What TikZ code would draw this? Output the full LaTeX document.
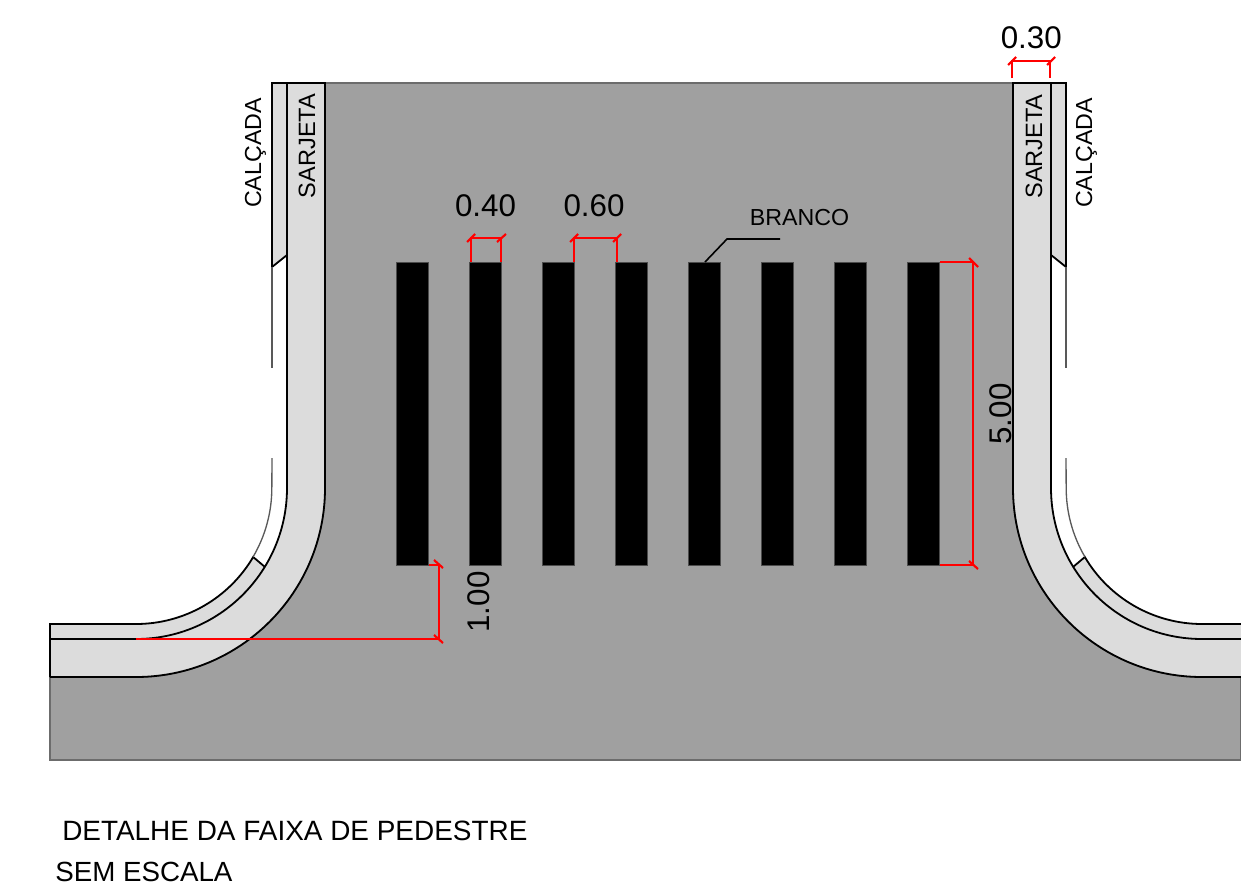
\documentclass[tikz,border=0pt]{standalone}
\usepackage{fontspec}
\setmainfont{Liberation Sans}
\definecolor{road}{HTML}{A0A0A0}
\definecolor{kerb}{HTML}{DCDCDC}
\definecolor{dimred}{HTML}{FF0000}
\tikzset{
  roadfill/.style={fill=road,draw=gray!85!black,line width=1.2pt},
  kerbfill/.style={fill=kerb,draw=none},
  edgeline/.style={draw=black,line width=1.35pt},
  thinline/.style={draw=black!65,line width=1pt},
  dimline/.style={draw=dimred,line width=1.2pt},
  dimtick/.style={draw=dimred,line width=1.6pt},
  stripe/.style={fill=black,draw=black!70,line width=0.3pt},
  bigtext/.style={font=\fontsize{23.5}{26}\selectfont,anchor=base,inner sep=0pt,text=black},
  midtext/.style={font=\fontsize{17.4}{20}\selectfont,anchor=base,inner sep=0pt,text=black},
  sartext/.style={font=\fontsize{17.7}{20}\selectfont,anchor=base,inner sep=0pt,text=black},
  captext/.style={font=\fontsize{20.8}{24}\selectfont,anchor=base west,inner sep=0pt,text=black},
  titletext/.style={font=\fontsize{20.95}{24}\selectfont,anchor=base west,inner sep=0pt,text=black},
}
\begin{document}
\begin{tikzpicture}[x=0.75pt,y=-0.75pt]
\useasboundingbox (0,0) rectangle (1241,885);
% road
\path[roadfill] (50,677) -- (136,677) arc (90:0:189) -- (325,83) -- (1013,83) -- (1013,488) arc (180:90:189) -- (1241,677) -- (1241,760) -- (50,760) -- cycle;
% light strips left
\path[kerbfill] (50,624) -- (136,624) arc (90:30.5:136) -- (265,567) arc (30.5:90:151) -- (50,639) -- cycle;
\path[kerbfill] (50,639) -- (136,639) arc (90:0:151) -- (287,83) -- (325,83) -- (325,488) arc (0:90:189) -- (50,677) -- cycle;
\path[kerbfill] (272,83) -- (287,83) -- (287,255) -- (272,267) -- cycle;
% light strips right
\path[kerbfill] (1241,624) -- (1202,624) arc (90:149.5:136) -- (1073,567) arc (149.5:90:151) -- (1241,639) -- cycle;
\path[kerbfill] (1241,639) -- (1202,639) arc (90:180:151) -- (1051,83) -- (1013,83) -- (1013,488) arc (180:90:189) -- (1241,677) -- cycle;
\path[kerbfill] (1066,83) -- (1051,83) -- (1051,255) -- (1066,267) -- cycle;
% outlines left
\draw[edgeline] (50,677) -- (136,677) arc (90:0:189) -- (325,83) -- (272,83) -- (272,267) -- (287,255);
\draw[edgeline] (287,83) -- (287,488) arc (0:90:151) -- (50,639);
\draw[edgeline] (50,677) -- (50,624) -- (136,624) arc (90:30.5:136) -- (265,567);
\draw[thinline] (253,557) arc (30.5:0:136) -- (272,458);
\draw[thinline] (272,267) -- (272,368);
% outlines right
\draw[edgeline] (1241,677) -- (1202,677) arc (90:180:189) -- (1013,83) -- (1066,83) -- (1066,267) -- (1051,255);
\draw[edgeline] (1051,83) -- (1051,488) arc (180:90:151) -- (1241,639);
\draw[edgeline] (1241,624) -- (1202,624) arc (90:149.5:136) -- (1073,567);
\draw[thinline] (1085,557) arc (149.5:180:136) -- (1066,458);
\draw[thinline] (1066,267) -- (1066,368);
% stripes
\foreach \bx in {396.6,469.6,542.6,615.6,688.6,761.6,834.6,907.6}
  \path[stripe] (\bx,262) rectangle ++(32,303);
% dimension lines
\draw[dimline] (471,262) -- (471,238) -- (501,238) -- (501,262);
\draw[dimtick] (467,242) -- (475,234);
\draw[dimtick] (497,242) -- (506,234);
\draw[dimline] (574,262) -- (574,238) -- (617,238) -- (617,262);
\draw[dimtick] (570,242) -- (578,234);
\draw[dimtick] (613,242) -- (621,234);
\draw[dimline] (1012,78) -- (1012,61) -- (1050,61) -- (1050,78);
\draw[dimtick] (1008,65) -- (1016,57);
\draw[dimtick] (1047,65) -- (1055,57);
\draw[dimline] (940,262) -- (973,262) -- (973,565) -- (940,565);
\draw[dimtick] (969,258) -- (978,267);
\draw[dimtick] (969,561) -- (978,569);
\draw[dimline] (429,565) -- (439,565) -- (439,639) -- (136,639);
\draw[dimtick] (434,560) -- (443,568);
\draw[dimtick] (434,635) -- (443,643);
% leader
\node[midtext] (branco) at (799.5,225) {BRANCO};
\coordinate (leadA) at (705,262);
\coordinate (leadB) at (727,239);
\coordinate (leadC) at (780,239);
\draw[draw=black,line width=1.2pt] (leadA) -- (leadB) -- (leadC);
% labels
\node[bigtext] (d040) at (485.5,216) {0.40};
\node[bigtext] (d060) at (594,216) {0.60};
\node[bigtext] (d030) at (1031.3,48) {0.30};
\node[bigtext,rotate=90] (d500) at (1011,414) {5.00};
\node[bigtext,rotate=90] (d100) at (489,602) {1.00};
\node[midtext,rotate=90] (calL) at (261,153) {CALÇADA};
\node[sartext,rotate=90] (sarL) at (315,146) {SARJETA};
\node[sartext,rotate=90] (sarR) at (1042,146.5) {SARJETA};
\node[midtext,rotate=90] (calR) at (1092,153) {CALÇADA};
\node[titletext] (title) at (62,840) {DETALHE DA FAIXA DE PEDESTRE};
\node[captext] (scale) at (55,881) {SEM ESCALA};
\end{tikzpicture}
\end{document}
